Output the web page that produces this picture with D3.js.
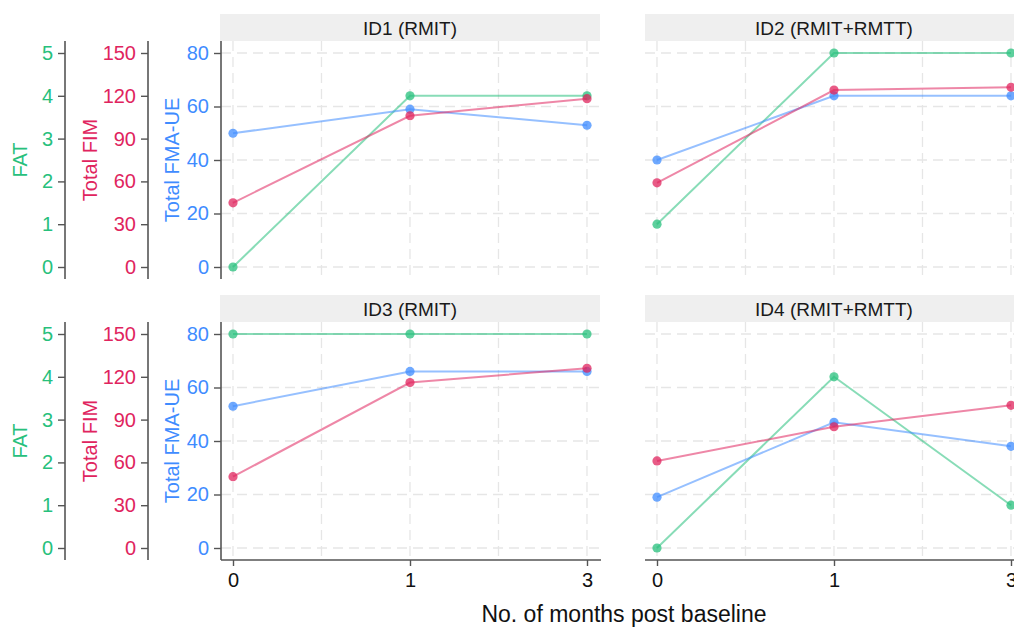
<!DOCTYPE html>
<html>
<head>
<meta charset="utf-8">
<script src="https://cdn.jsdelivr.net/npm/d3@7"></script>
<style>
body { margin: 0; background: #fff; }
text { font-family: "Liberation Sans", Arial, sans-serif; }
</style>
</head>
<body>
<script>
// data
var months = ['0', '1', '3'];
var panels = ['ID1 (RMIT)', 'ID2 (RMIT+RMTT)', 'ID3 (RMIT)', 'ID4 (RMIT+RMTT)'];
var fat = [[0, 4, 4], [1, 5, 5], [5, 5, 5], [0, 4, 1]];
var fim = [[45, 106, 118], [59, 124, 126], [50, 116, 126], [61, 85, 100]];
var fma = [[50, 59, 53], [40, 64, 64], [53, 66, 66], [19, 47, 38]];
var fatTicks = [0, 1, 2, 3, 4, 5];
var fimTicks = [0, 30, 60, 90, 120, 150];
var fmaTicks = [0, 20, 40, 60, 80];

var green = '#27c07c', red = '#e0245e', blue = '#3f8cff';

var W = 1014, H = 628;
var svg = d3.select('body').append('svg').attr('width', W).attr('height', H);

var colLeft = [221, 645], rowTop = [41, 322];
var plotW = 380, plotH = 238, pad = 12;

var x = d3.scalePoint().domain(months).range([pad, plotW - pad - 2]);
function yr() { return [plotH - pad, pad]; }
var yFat = d3.scaleLinear().domain([0, 5]).range(yr());
var yFim = d3.scaleLinear().domain([0, 150]).range(yr());
var yFma = d3.scaleLinear().domain([0, 80]).range(yr());

var series = [
	{ data: fat, y: yFat, color: green },
	{ data: fma, y: yFma, color: blue },
	{ data: fim, y: yFim, color: red }
];

function leftAxis(g, scale, ticks, color, xpos, title, titleX) {
	var a = g.append('g').attr('transform', 'translate(' + xpos + ',0)')
		.call(d3.axisLeft(scale).tickValues(ticks).tickFormat(d3.format('d')).tickSize(7).tickPadding(5));
	a.select('.domain').attr('d', 'M0,0V' + plotH).style('stroke', '#555').style('stroke-width', 1.6);
	a.selectAll('.tick line').style('stroke', '#555').style('stroke-width', 1.4);
	a.selectAll('.tick text').style('fill', color).style('font-size', '20px')
		.style('font-family', '"Liberation Sans", Arial, sans-serif');
	g.append('text').attr('transform', 'translate(' + titleX + ',' + (plotH / 2) + ') rotate(-90)')
		.attr('text-anchor', 'middle').attr('dy', '0.35em')
		.style('fill', color).style('font-size', '20px').text(title);
}

panels.forEach(function(name, p) {
	var col = p % 2, row = Math.floor(p / 2);
	var g = svg.append('g').attr('transform', 'translate(' + colLeft[col] + ',' + rowTop[row] + ')');

	// strip header
	g.append('rect').attr('x', col ? 0 : -1).attr('y', -27).attr('width', plotW).attr('height', 27).attr('fill', '#efefef');
	g.append('text').attr('x', plotW / 2 - 1).attr('y', -13).attr('dy', '0.35em').attr('text-anchor', 'middle')
		.style('font-size', '19px').style('fill', '#1a1a1a').text(name);

	// grid
	var vx = [];
	months.forEach(function(m, i) {
		vx.push(x(m));
		if (i < months.length - 1) vx.push((x(m) + x(months[i + 1])) / 2);
	});
	g.selectAll('.vg').data(vx).enter().append('line')
		.attr('x1', function(d) { return d; }).attr('x2', function(d) { return d; })
		.attr('y1', 0).attr('y2', plotH)
		.style('stroke', '#e6e6e6').style('stroke-width', 1.3).style('stroke-dasharray', '10,6');
	g.selectAll('.hg').data(fmaTicks).enter().append('line')
		.attr('x1', 0).attr('x2', plotW)
		.attr('y1', function(d) { return yFma(d); }).attr('y2', function(d) { return yFma(d); })
		.style('stroke', '#e6e6e6').style('stroke-width', 1.3).style('stroke-dasharray', '10,6');

	// lines and points
	series.forEach(function(s) {
		var vals = s.data[p].map(function(v, i) { return { m: months[i], v: v }; });
		g.append('path').datum(vals)
			.attr('d', d3.line().x(function(d) { return x(d.m); }).y(function(d) { return s.y(d.v); }))
			.attr('fill', 'none').style('stroke', s.color).style('stroke-width', 2).style('stroke-opacity', 0.55);
		g.selectAll(null).data(vals).enter().append('circle')
			.attr('cx', function(d) { return x(d.m); }).attr('cy', function(d) { return s.y(d.v); })
			.attr('r', 4.6).attr('fill', s.color).attr('fill-opacity', 0.75);
	});

	// x axis on bottom row
	if (row == 1) {
		var xa = g.append('g').attr('transform', 'translate(0,' + plotH + ')')
			.call(d3.axisBottom(x).tickSize(6).tickPadding(7));
		xa.select('.domain').attr('d', 'M0,0H' + plotW).style('stroke', '#555').style('stroke-width', 1.6);
		xa.selectAll('.tick line').style('stroke', '#555').style('stroke-width', 1.4);
		xa.selectAll('.tick text').style('fill', '#111').style('font-size', '20px')
			.style('font-family', '"Liberation Sans", Arial, sans-serif');
	}

	// the three y axes on the left column
	if (col == 0) {
		var ax = svg.append('g').attr('transform', 'translate(0,' + rowTop[row] + ')');
		leftAxis(ax, yFat, fatTicks, green, 65, 'FAT', 20);
		leftAxis(ax, yFim, fimTicks, red, 148, 'Total FIM', 90);
		leftAxis(ax, yFma, fmaTicks, blue, 221, 'Total FMA-UE', 172);
	}
});

svg.append('text').attr('x', 624).attr('y', 614).attr('dy', '0.35em').attr('text-anchor', 'middle')
	.style('font-size', '23px').style('fill', '#111').text('No. of months post baseline');
</script>
</body>
</html>
